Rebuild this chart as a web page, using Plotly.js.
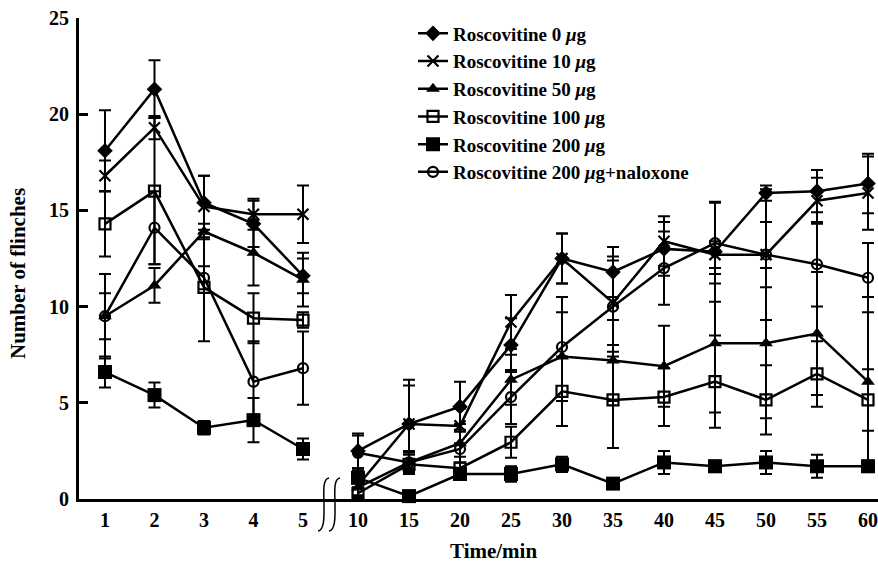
<!DOCTYPE html>
<html>
<head>
<meta charset="utf-8">
<script src="https://cdn.plot.ly/plotly-3.0.1.min.js"></script>
<style>html,body{margin:0;padding:0;background:#fff;}#chart{width:878px;height:562px;}</style>
</head>
<body>
<div id="chart"></div>
<script>
// ---------- data ----------
const xEarly = [1, 2, 3, 4, 5];
const xLate = [10, 15, 20, 25, 30, 35, 40, 45, 50, 55, 60];

const seriesNames = [
  "Roscovitine 0 <i>μ</i>g",
  "Roscovitine 10 <i>μ</i>g",
  "Roscovitine 50 <i>μ</i>g",
  "Roscovitine 100 <i>μ</i>g",
  "Roscovitine 200 <i>μ</i>g",
  "Roscovitine 200 <i>μ</i>g+naloxone"
];

// early phase (1-5 min)
const r0Early   = [18.1, 21.3, 15.4, 14.3, 11.6];
const r10Early  = [16.8, 19.3, 15.2, 14.8, 14.8];
const r50Early  = [9.5, 11.1, 13.9, 12.8, 11.4];
const r100Early = [14.3, 16.0, 11.0, 9.4, 9.3];
const r200Early = [6.6, 5.4, 3.7, 4.1, 2.6];
const rNalEarly = [9.5, 14.1, 11.5, 6.1, 6.8];

const r0EarlyErr   = [2.1, 1.5, 1.4, 1.2, 0.9];
const r10EarlyErr  = [0.8, 0.6, 1.6, 0.8, 1.5];
const r50EarlyErr  = [1.2, 0.9, 0.4, 1.7, 1.4];
const r100EarlyErr = [1.7, 3.8, 2.8, 1.3, 0.4];
const r200EarlyErr = [0.8, 0.65, 0.35, 1.15, 0.55];
const rNalEarlyErr = [2.2, 1.9, 0.6, 2.1, 1.9];

// late phase (10-60 min)
const r0Late   = [2.5, 3.9, 4.8, 8.0, 12.5, 11.8, 13.0, 12.85, 15.9, 16.0, 16.4];
const r10Late  = [0.7, 3.9, 3.8, 9.2, 12.5, 10.2, 13.4, 12.7, 12.7, 15.5, 15.9];
const r50Late  = [0.6, 1.9, 2.9, 6.2, 7.4, 7.2, 6.9, 8.1, 8.1, 8.6, 6.1];
const r100Late = [0.3, 1.8, 1.6, 2.95, 5.6, 5.15, 5.3, 6.1, 5.15, 6.5, 5.15];
const r200Late = [1.1, 0.15, 1.3, 1.3, 1.8, 0.8, 1.9, 1.7, 1.9, 1.7, 1.7];
const rNalLate = [2.4, 1.9, 2.6, 5.3, 7.9, 10.0, 12.0, 13.3, 12.7, 12.2, 11.5];

const r0LateErr   = [0.9, 2.0, 1.3, 1.4, 1.3, 1.3, 1.4, 2.6, 0.4, 1.1, 1.55];
const r10LateErr  = [0.6, 2.3, 0.9, 1.4, 1.3, 2.2, 1.3, 0.7, 1.7, 1.2, 1.9];
const r50LateErr  = [0.4, 0.6, 1.0, 1.3, 2.3, 2.1, 2.1, 3.6, 3.9, 3.2, 4.4];
const r100LateErr = [0.3, 0.5, 0.6, 0.8, 1.8, 2.5, 1.5, 2.4, 1.8, 1.7, 1.6];
const r200LateErr = [0.5, 0.1, 0.3, 0.4, 0.4, 0.1, 0.6, 0.3, 0.6, 0.6, 0.3];
const rNalLateErr = [0.9, 0.5, 1.0, 1.4, 2.6, 2.6, 1.9, 2.1, 3.4, 2.2, 1.8];

const yTicks = [0, 5, 10, 15, 20, 25];

// ---------- styling ----------
const early = [r0Early, r10Early, r50Early, r100Early, r200Early, rNalEarly];
const earlyErr = [r0EarlyErr, r10EarlyErr, r50EarlyErr, r100EarlyErr, r200EarlyErr, rNalEarlyErr];
const late = [r0Late, r10Late, r50Late, r100Late, r200Late, rNalLate];
const lateErr = [r0LateErr, r10LateErr, r50LateErr, r100LateErr, r200LateErr, rNalLateErr];

const markers = [
  {symbol: "diamond", size: 12},
  {symbol: "x-thin-open", size: 11, line: {width: 2.2}},
  {symbol: "triangle-up", size: 12},
  {symbol: "square-open", size: 11, line: {width: 2.2}},
  {symbol: "square", size: 14},
  {symbol: "circle-open", size: 10, line: {width: 2.2}}
];

const FONT = "Liberation Serif, Times New Roman, serif";
const traces = [];
for (let i = 0; i < 6; i++) {
  const mk = Object.assign({color: "#000"}, markers[i]);
  if (mk.line) mk.line = Object.assign({color: "#000"}, mk.line);
  traces.push({
    x: xEarly, y: early[i], xaxis: "x", yaxis: "y",
    type: "scatter", mode: "lines+markers",
    name: seriesNames[i], showlegend: true,
    line: {color: "#000", width: 2.5}, marker: mk, cliponaxis: false,
    error_y: {type: "data", array: earlyErr[i], visible: true, color: "#000", thickness: 2, width: 6}
  });
  traces.push({
    x: xLate, y: late[i], xaxis: "x2", yaxis: "y",
    type: "scatter", mode: "lines+markers",
    name: seriesNames[i], showlegend: false,
    line: {color: "#000", width: 2.5}, marker: mk, cliponaxis: false,
    error_y: {type: "data", array: lateErr[i], visible: true, color: "#000", thickness: 2, width: 6}
  });
}

// layout geometry (px)
const L = 79, T = 18, B = 63, W = 878, H = 562;
const PW = W - L, PH = H - T - B;
const px2x = p => (p - L) / PW;
const px2y = p => (H - B - p) / PH;
const split = px2x(327);

function squiggle(cx) {
  const p = (x, y) => px2x(x).toFixed(5) + "," + px2y(y).toFixed(5);
  return "M" + p(cx + 5, 478) + " C" + p(cx - 2, 479) + " " + p(cx, 494) + " " + p(cx, 504) +
         " C" + p(cx, 514) + " " + p(cx + 1, 530) + " " + p(cx - 6, 531);
}

const layout = {
  width: W, height: H,
  margin: {l: L, r: 0, t: T, b: B},
  paper_bgcolor: "#fff", plot_bgcolor: "#fff",
  font: {family: FONT, color: "#000", size: 19},
  showlegend: true,
  legend: {
    x: px2x(413), xanchor: "left", y: 1 + 3.5 / PH, yanchor: "top",
    bgcolor: "rgba(0,0,0,0)", borderwidth: 0,
    font: {family: FONT, size: 19, weight: "bold", color: "#000"},
    tracegroupgap: 0
  },
  xaxis: {
    domain: [0, split], range: [0.475, 0.475 + 248 / 49.5],
    tickvals: xEarly, ticktext: xEarly.map(String),
    showline: true, linewidth: 3, linecolor: "#000", ticks: "",
    showgrid: false, zeroline: false, automargin: false,
    ticklabelstandoff: 1,
    tickfont: {family: FONT, size: 20, weight: "bold", color: "#000"}
  },
  xaxis2: {
    domain: [split, 1], range: [10 - 31 / 10.2, 10 - 31 / 10.2 + 551 / 10.2],
    anchor: "y",
    tickvals: xLate, ticktext: xLate.map(String),
    showline: true, linewidth: 3, linecolor: "#000", ticks: "",
    showgrid: false, zeroline: false, automargin: false,
    ticklabelstandoff: 1,
    tickfont: {family: FONT, size: 20, weight: "bold", color: "#000"}
  },
  yaxis: {
    range: [0, 25], tickvals: yTicks, ticktext: yTicks.map(String),
    showline: true, linewidth: 3, linecolor: "#000",
    ticks: "inside", ticklen: 9, tickwidth: 3, tickcolor: "#000",
    showgrid: false, zeroline: false, automargin: false,
    ticklabelstandoff: 3,
    tickfont: {family: FONT, size: 20, weight: "bold", color: "#000"}
  },
  annotations: [
    {
      xref: "paper", yref: "paper", x: px2x(493), y: px2y(551),
      text: "Time/min", showarrow: false, xanchor: "center", yanchor: "middle",
      font: {family: FONT, size: 21, weight: "bold", color: "#000"}
    },
    {
      xref: "paper", yref: "paper", x: px2x(18), y: px2y(274),
      text: "Number of flinches", showarrow: false, textangle: -90,
      xanchor: "center", yanchor: "middle",
      font: {family: FONT, size: 21, weight: "bold", color: "#000"}
    }
  ],
  shapes: [
    {type: "path", xref: "paper", yref: "paper", path: squiggle(324), line: {color: "#000", width: 1.5}},
    {type: "path", xref: "paper", yref: "paper", path: squiggle(335), line: {color: "#000", width: 1.5}}
  ]
};

Plotly.newPlot("chart", traces, layout, {displayModeBar: false, staticPlot: true});
</script>
</body>
</html>
